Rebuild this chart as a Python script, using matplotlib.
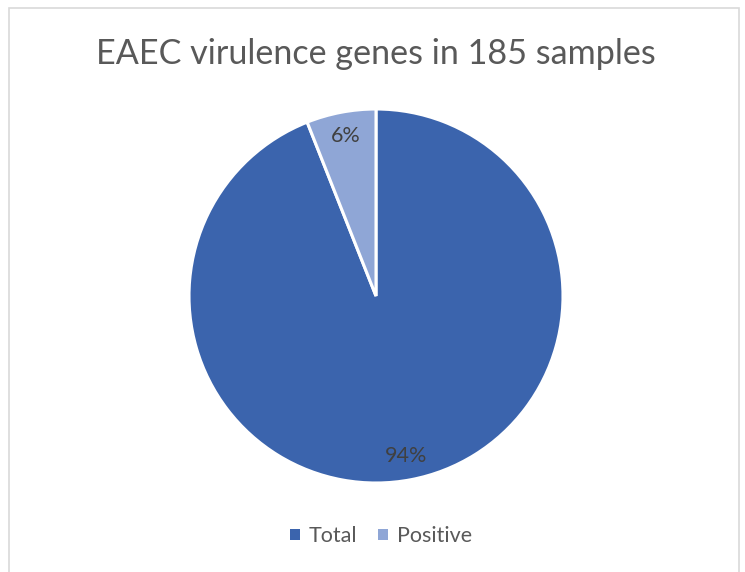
import matplotlib
matplotlib.use("Agg")
import matplotlib.pyplot as plt
from matplotlib.patches import Rectangle, Patch

categories = ["Total", "Positive"]
values = [94, 6]
colors = ["#3B64AD", "#8FA6D6"]
title = "EAEC virulence genes in 185 samples"

W, H = 745, 572
plt.rcParams["font.family"] = ["Lato", "DejaVu Sans"]
fig = plt.figure(figsize=(W / 100, H / 100), dpi=100)
fig.patch.set_facecolor("white")

# chart frame
fig.add_artist(Rectangle((9 / W, -0.02), 730 / W, 1 - 8 / H + 0.02,
                         transform=fig.transFigure, fill=False,
                         edgecolor="#D9D9D9", linewidth=1.2))

cx, cy, r = 376, 296, 187
ax = fig.add_axes([(cx - r) / W, 1 - (cy + r) / H, 2 * r / W, 2 * r / H])
wedges, texts, autotexts = ax.pie(
    values, colors=colors, startangle=90, counterclock=False,
    autopct=lambda p: f"{p:.0f}%", pctdistance=0.87, radius=1,
    wedgeprops=dict(edgecolor="white", linewidth=2.2),
    textprops=dict(color="#404040", fontsize=15.5))
ax.set_xlim(-1, 1)
ax.set_ylim(-1, 1)
ax.set_aspect("equal")

fig.text(376 / W, 1 - 54 / H, title, ha="center", va="center",
         fontsize=24.6, color="#595959")

handles = [Patch(facecolor=c, edgecolor="none") for c in colors]
fig.legend(handles, categories, loc="center", bbox_to_anchor=(381 / W, 1 - 536 / H),
           ncol=2, frameon=False, fontsize=15.5, labelcolor="#595959",
           handlelength=0.45, handleheight=0.45, handletextpad=0.4, columnspacing=1.0)

fig.savefig("out.png", dpi=100, facecolor="white")
